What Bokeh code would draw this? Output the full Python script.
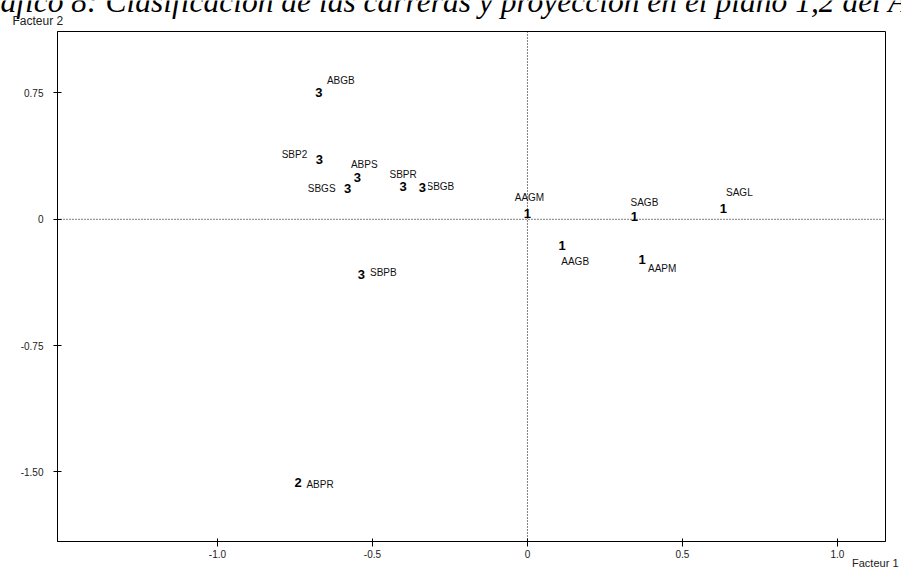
from bokeh.plotting import figure
from bokeh.layouts import column
from bokeh.models import ColumnDataSource, Span, FixedTicker, Range1d, Title
from bokeh.core.properties import value
from bokeh.embed import file_html
from bokeh.resources import INLINE

# ---- data ----
names = ["ABGB", "SBP2", "ABPS", "SBGS", "SBPR", "SBGB", "AAGM",
         "SAGB", "SAGL", "AAGB", "AAPM", "SBPB", "ABPR"]
factor1 = [-0.673, -0.671, -0.549, -0.580, -0.401, -0.339, 0.000,
           0.345, 0.632, 0.112, 0.370, -0.536, -0.740]
factor2 = [0.755, 0.355, 0.250, 0.181, 0.195, 0.187, 0.033,
           0.019, 0.063, -0.155, -0.240, -0.329, -1.561]
classes = ["3", "3", "3", "3", "3", "3", "1", "1", "1", "1", "1", "3", "2"]

x_ticks = [-1.0, -0.5, 0.0, 0.5, 1.0]
x_tick_labels = ["-1.0", "-0.5", "0", "0.5", "1.0"]
y_ticks = [0.75, 0.0, -0.75, -1.5]
y_tick_labels = ["0.75", "0", "-0.75", "-1.50"]

title_text = "Gráfico 8: Clasificación de las carreras y proyección en el plano 1,2 del ACP"
x_name = "Facteur 1"
y_name = "Facteur 2"

# label placement (pixel offsets from the class digit)
label_dx = [22, -25, 7, -26, 0, 18, 2, 10, 16, 13, 20, 22, 22]
label_dy = [-12, -5, -13, 0, -12, -1, -16, -14, -16, 16, 9, -2, 2]

src = ColumnDataSource(dict(x=factor1, y=factor2, name=names, cls=classes,
                            dx=label_dx, dy=label_dy))

# ---- header strip (title cut at the top, axis name) ----
header = figure(width=901, height=30, output_backend="svg", toolbar_location=None,
                x_range=Range1d(0, 901), y_range=Range1d(30, 0),
                x_axis_location=None, y_axis_location=None,
                min_border=0, outline_line_color=None, frame_align=False)
header.grid.visible = False
header.text(x=[-35], y=[0.5], text=[title_text],
            text_font=value("Liberation Serif"), text_font_style="italic",
            text_font_size="31.5px", text_color="black",
            text_align="left", text_baseline="middle")
header.text(x=[12], y=[20], text=[y_name],
            text_font=value("Liberation Sans"), text_font_size="12px",
            text_color="#222222", text_align="left", text_baseline="middle")

# ---- main plot ----
p = figure(width=901, height=539, output_backend="svg", toolbar_location=None,
           x_range=Range1d(-1.516, 1.155), y_range=Range1d(-1.913, 1.115),
           min_border_left=57, min_border_right=16, min_border_top=1,
           min_border_bottom=28, frame_align=False)
p.xgrid.visible = False
p.ygrid.visible = False
p.outline_line_color = "black"
p.outline_line_width = 1
p.outline_line_alpha = 1.0

for ax in (p.xaxis[0], p.yaxis[0]):
    ax.axis_line_color = "black"
    ax.major_tick_line_color = "black"
    ax.minor_tick_line_color = None
    ax.major_label_text_font = "Liberation Sans"
    ax.major_label_text_font_size = "10px"
    ax.major_label_text_color = "#222222"

p.xaxis.ticker = FixedTicker(ticks=x_ticks)
p.xaxis.major_label_overrides = {t: l for t, l in zip(x_ticks, x_tick_labels)}
p.xaxis.major_tick_in = 3
p.xaxis.major_tick_out = 5
p.xaxis.major_label_standoff = 3

p.yaxis.ticker = FixedTicker(ticks=y_ticks)
p.yaxis.major_label_overrides = {t: l for t, l in zip(y_ticks, y_tick_labels)}
p.yaxis.major_tick_in = 4
p.yaxis.major_tick_out = 4
p.yaxis.major_label_standoff = 10

# axis name at the right end, under the x axis
p.add_layout(Title(text=x_name, align="right", offset=-13, standoff=-9,
                   vertical_align="middle", text_font="Liberation Sans",
                   text_font_size="11px", text_font_style="normal",
                   text_color="#222222"), "below")

# dotted reference lines
p.add_layout(Span(location=0, dimension="height", line_color="black",
                  line_dash="1 2", line_width=1))
p.add_layout(Span(location=0, dimension="width", line_color="black",
                  line_dash="1 2", line_width=1))

# point names
p.text(x="x", y="y", text="name", source=src, x_offset="dx", y_offset="dy",
       text_font=value("Liberation Sans"), text_font_size="10px",
       text_color="#111111", text_align="center", text_baseline="middle",
       background_fill_color="white", padding=1)

# class digits
p.text(x="x", y="y", text="cls", source=src,
       text_font=value("Liberation Sans"), text_font_size="13px",
       text_font_style="bold", text_color="black",
       text_align="center", text_baseline="middle",
       background_fill_color="white", padding=2)

layout = column(header, p, spacing=0)
open("out.html", "w").write(file_html(layout, INLINE))
